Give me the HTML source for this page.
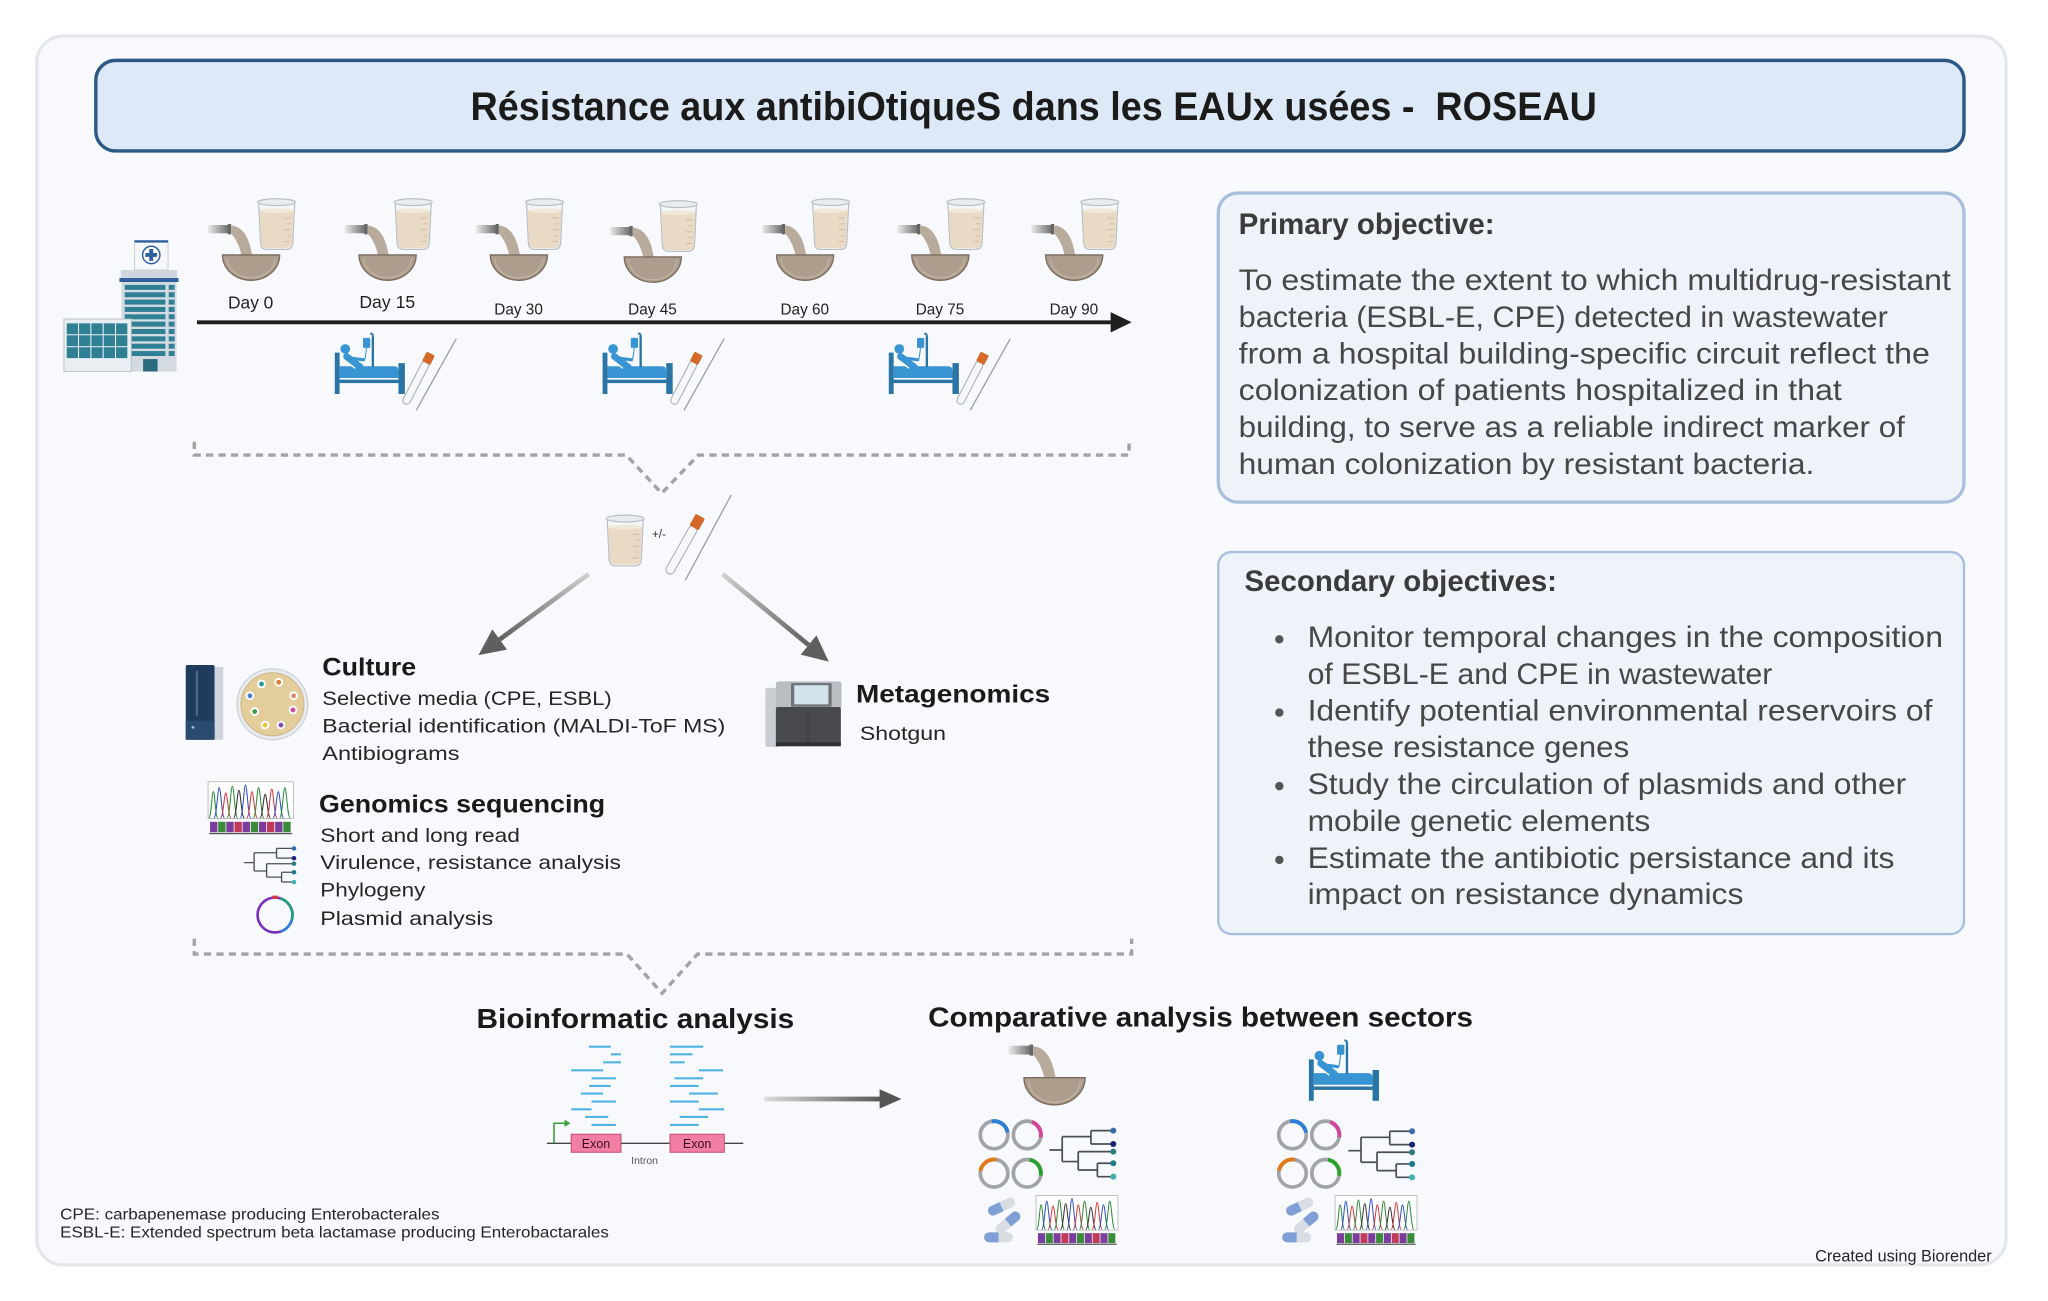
<!DOCTYPE html>
<html><head><meta charset="utf-8">
<style>
html,body{margin:0;padding:0;background:#ffffff;}
svg{display:block;}
text{font-family:"Liberation Sans",Arial,sans-serif;}
</style></head>
<body>
<svg width="2048" height="1301" viewBox="0 0 1560 991" preserveAspectRatio="none" xmlns="http://www.w3.org/2000/svg" xmlns:xlink="http://www.w3.org/1999/xlink">
<defs>
  <linearGradient id="pipeG" x1="0" x2="1" y1="0" y2="0">
    <stop offset="0" stop-color="#ececec"/><stop offset="1" stop-color="#6a6a6a"/>
  </linearGradient>
  <linearGradient id="arrL" gradientUnits="userSpaceOnUse" x1="448" y1="437" x2="380" y2="487">
    <stop offset="0" stop-color="#d0d0d0"/><stop offset="1" stop-color="#5f5f5f"/>
  </linearGradient>
  <linearGradient id="arrR" gradientUnits="userSpaceOnUse" x1="550" y1="437" x2="616" y2="491">
    <stop offset="0" stop-color="#d0d0d0"/><stop offset="1" stop-color="#5f5f5f"/>
  </linearGradient>
  <linearGradient id="arrB" gradientUnits="userSpaceOnUse" x1="582" y1="0" x2="672" y2="0">
    <stop offset="0" stop-color="#dcdcdc"/><stop offset="1" stop-color="#555"/>
  </linearGradient>

  <g id="beaker">
    <path d="M1.5,3 L3,34.5 Q3.5,39 8,39 L22.5,39 Q27,39 27.5,34.5 L29,3 Z" fill="#f3f5f7" stroke="#b8bec4" stroke-width="0.9"/>
    <path d="M2.1,9.5 L3.4,34.3 Q3.9,38 8,38 L22.5,38 Q26.4,38 26.9,34.3 L28.3,9.5 Z" fill="#e9dac6"/>
    <ellipse cx="15.2" cy="9.5" rx="13.1" ry="1.8" fill="#f2e8d9"/>
    <g stroke="#cdbba2" stroke-width="0.7">
      <line x1="21" y1="15" x2="26" y2="15"/><line x1="23" y1="19.5" x2="26" y2="19.5"/>
      <line x1="21" y1="24" x2="26" y2="24"/><line x1="23" y1="28.5" x2="26" y2="28.5"/>
      <line x1="21" y1="33" x2="25.5" y2="33"/>
    </g>
    <ellipse cx="15.2" cy="3" rx="14.5" ry="2.6" fill="#e8ecef" stroke="#b8bec4" stroke-width="0.9"/>
  </g>

  <g id="pour">
    <rect x="-32.5" y="0" width="16" height="6.3" fill="url(#pipeG)"/>
    <rect x="-17.5" y="-0.8" width="2.5" height="7.9" fill="#666"/>
    <path d="M-15,0.4 C-6,1.1 -1,9.6 1,23.1 L-7,23.1 C-9,14.6 -12,9.6 -15,6.6 Z" fill="#b9ab9c"/>
    <path d="M-21.5,22.8 L22,22.8 A21.75 19.3 0 0 1 -21.5,22.8 Z" fill="#ad9d8d" stroke="#7a6b5d" stroke-width="1"/>
    <path d="M-18,25 A18 15 0 0 0 18.5,25" fill="none" stroke="#c4b6a7" stroke-width="0.8"/>
  </g>

  <g id="samp">
    <use href="#pour" xlink:href="#pour" x="0" y="171.4"/>
    <use href="#beaker" xlink:href="#beaker" x="4.5" y="151"/>
  </g>

  <g id="bed">
    <rect x="0" y="15" width="3.7" height="31.5" fill="#2b74a6"/>
    <rect x="48.5" y="23" width="4.9" height="23.5" fill="#2b74a6"/>
    <rect x="1" y="35.6" width="51" height="2.6" fill="#2b74a6"/>
    <path d="M3.7,25.4 L45,25.4 Q48.5,25.4 48.5,29 L48.5,34.3 L3.7,34.3 Z" fill="#3894d2"/>
    <circle cx="8" cy="12.2" r="3.7" fill="#3894d2"/>
    <line x1="9" y1="18" x2="19.5" y2="26" stroke="#3894d2" stroke-width="5.2" stroke-linecap="round"/>
    <line x1="11" y1="19" x2="22" y2="20.5" stroke="#3894d2" stroke-width="2.4" stroke-linecap="round"/>
    <line x1="4.5" y1="18.5" x2="15.5" y2="27" stroke="#ffffff" stroke-width="1"/>
    <line x1="29" y1="26" x2="29" y2="2.5" stroke="#2b74a6" stroke-width="1.8"/>
    <path d="M29,2.5 Q29,0.3 27,0.5" fill="none" stroke="#2b74a6" stroke-width="1.5"/>
    <rect x="21.5" y="3.8" width="5.5" height="7.6" rx="1" fill="#3894d2"/>
    <line x1="24.2" y1="11.4" x2="23" y2="20" stroke="#3894d2" stroke-width="0.8"/>
  </g>

  <g id="tube">
    <line x1="62" y1="59" x2="92.6" y2="4.3" stroke="#9aa0a6" stroke-width="1"/>
    <g transform="translate(61.75,38) rotate(-62.7)">
      <rect x="-18" y="-2.9" width="36" height="5.8" rx="2.9" fill="#f6f7f9" stroke="#a8adb3" stroke-width="0.8"/>
      <rect x="17" y="-3.5" width="8" height="7" rx="1" fill="#d4692a"/>
    </g>
  </g>

  <g id="chrom">
    <rect x="0.5" y="0.5" width="65" height="28" fill="#ffffff" stroke="#b0b0b0" stroke-width="0.6"/>
    <g fill="none" stroke-width="0.8">
      <path d="M1,28 C3,28 3.3,8 4.5,8 C5.7,8 6,28 8,28" stroke="#2e8b3a"/>
      <path d="M5,28 C7,28 7.8,5 9,5 C10.2,5 11,28 13,28" stroke="#3050c8"/>
      <path d="M10,28 C12,28 12.8,9 14,9 C15.2,9 16,28 18,28" stroke="#d23a3a"/>
      <path d="M15,28 C17,28 17.8,4 19,4 C20.2,4 21,28 23,28" stroke="#2e8b3a"/>
      <path d="M20,28 C22,28 22.8,7 24,7 C25.2,7 26,28 28,28" stroke="#333333"/>
      <path d="M25,28 C27,28 27.8,3 29,3 C30.2,3 31,28 33,28" stroke="#3050c8"/>
      <path d="M30,28 C32,28 32.8,8 34,8 C35.2,8 36,28 38,28" stroke="#d23a3a"/>
      <path d="M35,28 C37,28 37.8,5 39,5 C40.2,5 41,28 43,28" stroke="#2e8b3a"/>
      <path d="M40,28 C42,28 42.8,10 44,10 C45.2,10 46,28 48,28" stroke="#333333"/>
      <path d="M45,28 C47,28 47.8,6 49,6 C50.2,6 51,28 53,28" stroke="#d23a3a"/>
      <path d="M50,28 C52,28 52.8,8 54,8 C55.2,8 56,28 58,28" stroke="#3050c8"/>
      <path d="M55,28 C57,28 57.8,5 59,5 C60.2,5 61,28 63,28" stroke="#2e8b3a"/>
    </g>
    <g>
      <rect x="2" y="31" width="5.6" height="8" fill="#7b3d9b"/>
      <rect x="8.2" y="31" width="5.6" height="8" fill="#3a8a3a"/>
      <rect x="14.4" y="31" width="5.6" height="8" fill="#7b3d9b"/>
      <rect x="20.6" y="31" width="5.6" height="8" fill="#c03a5a"/>
      <rect x="26.8" y="31" width="5.6" height="8" fill="#7b3d9b"/>
      <rect x="33" y="31" width="5.6" height="8" fill="#3a8a3a"/>
      <rect x="39.2" y="31" width="5.6" height="8" fill="#7b3d9b"/>
      <rect x="45.4" y="31" width="5.6" height="8" fill="#c03a5a"/>
      <rect x="51.6" y="31" width="5.6" height="8" fill="#7b3d9b"/>
      <rect x="57.8" y="31" width="5.6" height="8" fill="#3a8a3a"/>
    </g>
    <line x1="1.5" y1="40" x2="64.5" y2="40" stroke="#555" stroke-width="1"/>
  </g>

  <g id="tree">
    <g fill="none" stroke="#4a4f55" stroke-width="1.3">
      <path d="M0,16.5 H9.7 M9.7,6.3 V25.3 M9.7,6.3 H31.6 M31.6,1.7 V11.9 M31.6,1.7 H48.6 M31.6,11.9 H48.6 M9.7,25.3 H21.9 M21.9,17.7 V31.7 M21.9,17.7 H48.6 M21.9,31.7 H36.5 M36.5,26.6 V36.8 M36.5,26.6 H48.6 M36.5,36.8 H48.6"/>
    </g>
    <circle cx="48.6" cy="1.7" r="2.3" fill="#3a6ab0"/>
    <circle cx="48.6" cy="11.9" r="2.3" fill="#1a237e"/>
    <circle cx="48.6" cy="17.7" r="2.3" fill="#2e7d7d"/>
    <circle cx="48.6" cy="26.6" r="2.3" fill="#1f7a8c"/>
    <circle cx="48.6" cy="36.8" r="2.3" fill="#40b0b0"/>
  </g>

  <g id="plas4">
    <g fill="none" stroke="#a0a3a8" stroke-width="2.8">
      <circle cx="0" cy="0" r="10.5"/><circle cx="25.2" cy="0" r="10.5"/>
      <circle cx="0" cy="29.2" r="10.5"/><circle cx="25.2" cy="29.2" r="10.5"/>
    </g>
    <g fill="none" stroke-width="3">
      <path d="M-1.82,-10.34 A10.5 10.5 0 0 1 10.34,-1.82" stroke="#2f7fd8"/>
      <path d="M28.79,-9.87 A10.5 10.5 0 0 1 35.54,1.82" stroke="#d0449a"/>
      <path d="M-10.34,27.38 A10.5 10.5 0 0 1 1.82,18.86" stroke="#e07a1a"/>
      <path d="M27.02,18.86 A10.5 10.5 0 0 1 35.54,31.02" stroke="#2ca02c"/>
    </g>
  </g>

  <g id="pill">
    <rect x="-11" y="-3.8" width="22" height="7.6" rx="3.8" fill="#d8dce3"/>
    <path d="M0,-3.8 L-7.2,-3.8 A3.8 3.8 0 0 0 -7.2,3.8 L0,3.8 Z" fill="#7f9fd6"/>
  </g>

  <g id="pills">
    <use href="#pill" xlink:href="#pill" transform="translate(14.5,5.1) rotate(-25)"/>
    <use href="#pill" xlink:href="#pill" transform="translate(19.5,17.3) rotate(140)"/>
    <use href="#pill" xlink:href="#pill" transform="translate(12.2,28.5)"/>
  </g>
</defs>

<!-- outer panel -->
<rect x="28" y="27.5" width="1500" height="936" rx="20" fill="#f7f9fc" stroke="#e3e7ec" stroke-width="2.5"/>

<!-- title -->
<rect x="73" y="46" width="1423" height="69" rx="15" fill="#dde9f6" stroke="#2b5885" stroke-width="2.6"/>
<text x="358.4" y="91.5" font-size="30" font-weight="bold" fill="#1b1b1b" textLength="858" lengthAdjust="spacingAndGlyphs" style="white-space:pre">Résistance aux antibiOtiqueS dans les EAUx usées -  ROSEAU</text>

<!-- primary objective -->
<rect x="928" y="147" width="568" height="235.5" rx="15" fill="#eef3f9" stroke="#a9bedc" stroke-width="2.5"/>
<text x="943.5" y="178.3" font-size="22.5" font-weight="bold" fill="#3b3b3b" textLength="195" lengthAdjust="spacingAndGlyphs">Primary objective:</text>
<g font-size="22.5" fill="#474747">
  <text x="943.5" y="221" textLength="542.5" lengthAdjust="spacingAndGlyphs">To estimate the extent to which multidrug-resistant</text>
  <text x="943.5" y="249" textLength="494.5" lengthAdjust="spacingAndGlyphs">bacteria (ESBL-E, CPE) detected in wastewater</text>
  <text x="943.5" y="276.8" textLength="526.5" lengthAdjust="spacingAndGlyphs">from a hospital building-specific circuit reflect the</text>
  <text x="943.5" y="304.8" textLength="459.5" lengthAdjust="spacingAndGlyphs">colonization of patients hospitalized in that</text>
  <text x="943.5" y="332.8" textLength="507.5" lengthAdjust="spacingAndGlyphs">building, to serve as a reliable indirect marker of</text>
  <text x="943.5" y="361" textLength="438.5" lengthAdjust="spacingAndGlyphs">human colonization by resistant bacteria.</text>
</g>

<!-- secondary objectives -->
<rect x="928" y="420.5" width="568" height="291" rx="10" fill="#eef3f9" stroke="#a9bedc" stroke-width="1.8"/>
<text x="948" y="450" font-size="22.5" font-weight="bold" fill="#3b3b3b" textLength="238" lengthAdjust="spacingAndGlyphs">Secondary objectives:</text>
<g fill="#555"><circle cx="974.5" cy="487" r="3.2"/><circle cx="974.5" cy="542.8" r="3.2"/><circle cx="974.5" cy="598.8" r="3.2"/><circle cx="974.5" cy="655" r="3.2"/></g>
<g font-size="22.5" fill="#474747">
  <text x="996" y="493" textLength="484" lengthAdjust="spacingAndGlyphs">Monitor temporal changes in the composition</text>
  <text x="996" y="521" textLength="354" lengthAdjust="spacingAndGlyphs">of ESBL-E and CPE in wastewater</text>
  <text x="996" y="548.8" textLength="476" lengthAdjust="spacingAndGlyphs">Identify potential environmental reservoirs of</text>
  <text x="996" y="576.7" textLength="245" lengthAdjust="spacingAndGlyphs">these resistance genes</text>
  <text x="996" y="604.8" textLength="456" lengthAdjust="spacingAndGlyphs">Study the circulation of plasmids and other</text>
  <text x="996" y="633" textLength="261" lengthAdjust="spacingAndGlyphs">mobile genetic elements</text>
  <text x="996" y="661" textLength="447" lengthAdjust="spacingAndGlyphs">Estimate the antibiotic persistance and its</text>
  <text x="996" y="688.6" textLength="332" lengthAdjust="spacingAndGlyphs">impact on resistance dynamics</text>
</g>

<!-- hospital -->
<g>
  <rect x="92.5" y="214.6" width="42" height="68.4" fill="#d3dbe1"/>
  <g fill="#2f8094">
    <rect x="95" y="217" width="31" height="3.8"/><rect x="95" y="222.6" width="31" height="3.8"/>
    <rect x="95" y="228.2" width="31" height="3.8"/><rect x="95" y="233.8" width="31" height="3.8"/>
    <rect x="95" y="239.4" width="31" height="3.8"/><rect x="95" y="245" width="31" height="3.8"/>
    <rect x="95" y="250.6" width="31" height="3.8"/><rect x="95" y="256.2" width="31" height="3.8"/>
    <rect x="95" y="261.8" width="31" height="3.8"/><rect x="95" y="267.4" width="31" height="3.8"/>
    <rect x="128.5" y="217" width="4.5" height="3.8"/><rect x="128.5" y="222.6" width="4.5" height="3.8"/>
    <rect x="128.5" y="228.2" width="4.5" height="3.8"/><rect x="128.5" y="233.8" width="4.5" height="3.8"/>
    <rect x="128.5" y="239.4" width="4.5" height="3.8"/><rect x="128.5" y="245" width="4.5" height="3.8"/>
    <rect x="128.5" y="250.6" width="4.5" height="3.8"/><rect x="128.5" y="256.2" width="4.5" height="3.8"/>
    <rect x="128.5" y="261.8" width="4.5" height="3.8"/><rect x="128.5" y="267.4" width="4.5" height="3.8"/>
  </g>
  <rect x="109" y="273.5" width="11" height="9.5" fill="#2a6b7d"/>
  <rect x="92" y="205.7" width="43" height="7" fill="#cfd8de"/>
  <rect x="91" y="211.8" width="45" height="3" fill="#2e5f9c"/>
  <rect x="102.5" y="183.5" width="25.5" height="22.2" fill="#f5f7f9" stroke="#c3cad1" stroke-width="0.7"/>
  <rect x="102.5" y="183" width="25.5" height="1.8" fill="#2e5f9c"/>
  <circle cx="115.2" cy="194.2" r="6.6" fill="#ffffff" stroke="#2e5f9c" stroke-width="1.1"/>
  <path d="M113.7,189.7 h3 v3 h3 v3 h-3 v3 h-3 v-3 h-3 v-3 h3 Z" fill="#2e5f9c"/>
  <rect x="48.7" y="243" width="51.3" height="40" fill="#e9eef2" stroke="#b6c0c9" stroke-width="0.7"/>
  <g fill="#2f8094">
    <rect x="50.8" y="246.3" width="8.6" height="8.3"/><rect x="60.2" y="246.3" width="8.6" height="8.3"/><rect x="69.6" y="246.3" width="8.6" height="8.3"/><rect x="79" y="246.3" width="8.6" height="8.3"/><rect x="88.4" y="246.3" width="8.6" height="8.3"/>
    <rect x="50.8" y="255.4" width="8.6" height="8.3"/><rect x="60.2" y="255.4" width="8.6" height="8.3"/><rect x="69.6" y="255.4" width="8.6" height="8.3"/><rect x="79" y="255.4" width="8.6" height="8.3"/><rect x="88.4" y="255.4" width="8.6" height="8.3"/>
    <rect x="50.8" y="264.5" width="8.6" height="8.3"/><rect x="60.2" y="264.5" width="8.6" height="8.3"/><rect x="69.6" y="264.5" width="8.6" height="8.3"/><rect x="79" y="264.5" width="8.6" height="8.3"/><rect x="88.4" y="264.5" width="8.6" height="8.3"/>
  </g>
</g>

<!-- timeline samples -->
<use href="#samp" xlink:href="#samp" x="191" y="0"/>
<use href="#samp" xlink:href="#samp" x="295" y="0"/>
<use href="#samp" xlink:href="#samp" x="395" y="0"/>
<use href="#samp" xlink:href="#samp" x="497" y="1.5"/>
<use href="#samp" xlink:href="#samp" x="613" y="0"/>
<use href="#samp" xlink:href="#samp" x="716" y="0"/>
<use href="#samp" xlink:href="#samp" x="818" y="0"/>

<g fill="#222">
  <text x="173.7" y="235" font-size="13.5" textLength="34.5" lengthAdjust="spacingAndGlyphs">Day 0</text>
  <text x="273.7" y="234.6" font-size="13.5" textLength="42.6" lengthAdjust="spacingAndGlyphs">Day 15</text>
  <text x="376.5" y="239.5" font-size="12" textLength="37" lengthAdjust="spacingAndGlyphs">Day 30</text>
  <text x="478.5" y="239.5" font-size="12" textLength="37" lengthAdjust="spacingAndGlyphs">Day 45</text>
  <text x="594.5" y="239.5" font-size="12" textLength="37" lengthAdjust="spacingAndGlyphs">Day 60</text>
  <text x="697.5" y="239.5" font-size="12" textLength="37" lengthAdjust="spacingAndGlyphs">Day 75</text>
  <text x="799.5" y="239.5" font-size="12" textLength="37" lengthAdjust="spacingAndGlyphs">Day 90</text>
</g>

<line x1="150" y1="245.5" x2="848" y2="245.5" stroke="#1f1f1f" stroke-width="3"/>
<polygon points="846,237.8 862,245.5 846,253.3" fill="#1f1f1f"/>

<!-- beds + tubes -->
<g transform="translate(255,253.6)"><use href="#bed" xlink:href="#bed"/><use href="#tube" xlink:href="#tube"/></g>
<g transform="translate(459,253.6)"><use href="#bed" xlink:href="#bed"/><use href="#tube" xlink:href="#tube"/></g>
<g transform="translate(677,253.6)"><use href="#bed" xlink:href="#bed"/><use href="#tube" xlink:href="#tube"/></g>

<!-- dashed connectors -->
<path d="M148,336.5 L148,346.6 L477,346.6 L504,375.7 L532,346.6 L860,346.6 L860,336.5" fill="none" stroke="#a3a3a3" stroke-width="2.6" stroke-dasharray="5.5 4"/>
<path d="M148,715 L148,726.7 L477.6,726.7 L504.3,756.6 L531.3,726.7 L862,726.7 L862,715" fill="none" stroke="#a3a3a3" stroke-width="2.6" stroke-dasharray="5.5 4"/>

<!-- middle sample icons -->
<use href="#beaker" xlink:href="#beaker" x="461" y="392"/>
<text x="496.5" y="410" font-size="9" fill="#333">+/-</text>
<line x1="557" y1="377" x2="522" y2="442" stroke="#9aa0a6" stroke-width="1"/>
<g transform="translate(519,419) rotate(-60.5)">
  <rect x="-20.5" y="-3.3" width="41" height="6.6" rx="3.3" fill="#f6f7f9" stroke="#a8adb3" stroke-width="0.8"/>
  <rect x="19.5" y="-4" width="10" height="8" rx="1" fill="#d4692a"/>
</g>

<!-- arrows -->
<line x1="448.4" y1="437.3" x2="380.6" y2="487.1" stroke="url(#arrL)" stroke-width="3.6"/>
<polygon points="364.5,499 386.2,494.8 375,479.4" fill="#5f5f5f"/>
<line x1="550.4" y1="437.3" x2="615.9" y2="491.3" stroke="url(#arrR)" stroke-width="3.6"/>
<polygon points="631.3,504 609.9,498.6 621.9,484" fill="#5f5f5f"/>

<!-- culture icons -->
<rect x="141.5" y="506.5" width="22" height="57" rx="1.5" fill="#1f3b5e"/>
<rect x="163.5" y="508" width="6.5" height="55.5" fill="#cfd5dc"/>
<line x1="150" y1="511" x2="150" y2="545" stroke="#6a84a4" stroke-width="1"/>
<rect x="141.5" y="549" width="22" height="14.5" fill="#2a4a70"/>
<rect x="146" y="553" width="2" height="2" fill="#9fb3c8"/>
<circle cx="207.5" cy="536.5" r="27" fill="#e9ecef" stroke="#cfd3d8" stroke-width="1"/>
<circle cx="207.5" cy="536.5" r="24" fill="#e3cd9a" stroke="#cdb78a" stroke-width="0.8"/>
<g stroke="#ffffff" stroke-width="1.5">
  <circle cx="199.2" cy="521" r="2.6" fill="#2a9d8f"/>
  <circle cx="212.3" cy="519.7" r="2.6" fill="#e07a3a"/>
  <circle cx="190.4" cy="530" r="2.6" fill="#4a7fd0"/>
  <circle cx="223.7" cy="530" r="2.6" fill="#e08a70"/>
  <circle cx="194" cy="542" r="2.6" fill="#3aa04a"/>
  <circle cx="223.2" cy="540.8" r="2.6" fill="#d04a9a"/>
  <circle cx="201.9" cy="552.3" r="2.6" fill="#e8c040"/>
  <circle cx="214" cy="552.3" r="2.6" fill="#8a4ab0"/>
</g>

<!-- culture text -->
<text x="245.5" y="514.7" font-size="19" font-weight="bold" fill="#1a1a1a" textLength="71.5" lengthAdjust="spacingAndGlyphs">Culture</text>
<g font-size="15" fill="#262626">
  <text x="245.5" y="537" textLength="220.5" lengthAdjust="spacingAndGlyphs">Selective media (CPE, ESBL)</text>
  <text x="245.5" y="558" textLength="307" lengthAdjust="spacingAndGlyphs">Bacterial identification (MALDI-ToF MS)</text>
  <text x="245.5" y="579" textLength="104.5" lengthAdjust="spacingAndGlyphs">Antibiograms</text>
</g>

<!-- sequencer -->
<rect x="583" y="524" width="10.5" height="45" rx="1.5" fill="#c9cdd1"/>
<rect x="591" y="519" width="50" height="21" rx="2" fill="#b9bdc1"/>
<rect x="602.5" y="520.3" width="31" height="18" rx="1" fill="#6f767b"/>
<rect x="605" y="522" width="26" height="14.5" fill="#d3e3ec"/>
<rect x="591" y="538.5" width="49.5" height="29.5" rx="1.5" fill="#47494c"/>
<line x1="615.5" y1="540" x2="615.5" y2="566" stroke="#3a3c3e" stroke-width="0.8"/>
<rect x="591" y="565.5" width="49.5" height="3" fill="#2f3133"/>

<text x="652" y="535" font-size="19" font-weight="bold" fill="#1a1a1a" textLength="148" lengthAdjust="spacingAndGlyphs">Metagenomics</text>
<text x="655" y="563.7" font-size="15" fill="#262626" textLength="65.6" lengthAdjust="spacingAndGlyphs">Shotgun</text>

<!-- genomics -->
<use href="#chrom" xlink:href="#chrom" transform="translate(158,595) scale(1,1.0)"/>
<use href="#tree" xlink:href="#tree" transform="translate(186,645) scale(0.78,0.73)"/>
<circle cx="209.5" cy="697" r="13.3" fill="none" stroke="#7b2fbf" stroke-width="2"/>
<path d="M213.5,684.3 A13.3 13.3 0 0 1 222.2,701" fill="none" stroke="#1aa37a" stroke-width="2"/>
<path d="M222.2,701 A13.3 13.3 0 0 1 214,709.5" fill="none" stroke="#2f7fd8" stroke-width="2"/>
<rect x="207.5" y="682.2" width="4" height="2.5" fill="#d83a3a"/>

<text x="243" y="619" font-size="19" font-weight="bold" fill="#1a1a1a" textLength="218" lengthAdjust="spacingAndGlyphs">Genomics sequencing</text>
<g font-size="15" fill="#262626">
  <text x="244" y="641.4" textLength="152" lengthAdjust="spacingAndGlyphs">Short and long read</text>
  <text x="244" y="662" textLength="229" lengthAdjust="spacingAndGlyphs">Virulence, resistance analysis</text>
  <text x="244" y="683" textLength="80" lengthAdjust="spacingAndGlyphs">Phylogeny</text>
  <text x="244" y="704.6" textLength="131.6" lengthAdjust="spacingAndGlyphs">Plasmid analysis</text>
</g>

<!-- bottom headings -->
<text x="363" y="783" font-size="21" font-weight="bold" fill="#1a1a1a" textLength="242" lengthAdjust="spacingAndGlyphs">Bioinformatic analysis</text>
<text x="707" y="782" font-size="21" font-weight="bold" fill="#1a1a1a" textLength="415" lengthAdjust="spacingAndGlyphs">Comparative analysis between sectors</text>

<!-- reads -->
<g stroke="#4fb3e3" stroke-width="1.6">
  <line x1="448.7" y1="797.3" x2="465.2" y2="797.3"/>
  <line x1="465.2" y1="803.1" x2="473" y2="803.1"/>
  <line x1="459.4" y1="809.2" x2="473" y2="809.2"/>
  <line x1="435.1" y1="815.3" x2="459.4" y2="815.3"/>
  <line x1="450.6" y1="821.4" x2="469.1" y2="821.4"/>
  <line x1="448.7" y1="827.2" x2="465.2" y2="827.2"/>
  <line x1="442.4" y1="833" x2="459.4" y2="833"/>
  <line x1="450.6" y1="839.1" x2="469.1" y2="839.1"/>
  <line x1="435.1" y1="845" x2="450.6" y2="845"/>
  <line x1="445.8" y1="850.8" x2="463.3" y2="850.8"/>
  <line x1="450.6" y1="856.9" x2="469.1" y2="856.9"/>
  <line x1="510.4" y1="797.3" x2="535.6" y2="797.3"/>
  <line x1="510.4" y1="803.1" x2="527.4" y2="803.1"/>
  <line x1="510.4" y1="809.2" x2="521.5" y2="809.2"/>
  <line x1="532.2" y1="815.3" x2="550.7" y2="815.3"/>
  <line x1="513.8" y1="821.4" x2="535.6" y2="821.4"/>
  <line x1="510.4" y1="827.2" x2="532.2" y2="827.2"/>
  <line x1="524.9" y1="833" x2="546.8" y2="833"/>
  <line x1="510.4" y1="839.1" x2="532.2" y2="839.1"/>
  <line x1="532.2" y1="845" x2="551.7" y2="845"/>
  <line x1="517.7" y1="850.8" x2="539.5" y2="850.8"/>
  <line x1="510.4" y1="856.9" x2="532.2" y2="856.9"/>
</g>
<line x1="416.6" y1="870.9" x2="566.2" y2="870.9" stroke="#444" stroke-width="1.1"/>
<path d="M422,870.9 V855.6 H431" fill="none" stroke="#3aa03a" stroke-width="1.2"/>
<polygon points="430,852.8 434.5,855.6 430,858.4" fill="#3aa03a"/>
<rect x="435.1" y="864" width="37.9" height="13.7" fill="#f27ea3" stroke="#c94d74" stroke-width="0.8"/>
<rect x="510.4" y="864" width="41.3" height="13.7" fill="#f27ea3" stroke="#c94d74" stroke-width="0.8"/>
<text x="454" y="874.5" font-size="9.5" fill="#3a1020" text-anchor="middle">Exon</text>
<text x="531" y="874.5" font-size="9.5" fill="#3a1020" text-anchor="middle">Exon</text>
<text x="491" y="886.5" font-size="8" fill="#555" text-anchor="middle">Intron</text>

<!-- bottom arrow -->
<line x1="582.3" y1="837.1" x2="672" y2="837.1" stroke="url(#arrB)" stroke-width="3.6"/>
<polygon points="670,829.7 686.7,837.1 670,844.5" fill="#555"/>

<!-- comparative group 1 -->
<use href="#pour" xlink:href="#pour" transform="translate(803,796.5) scale(1.07)"/>
<use href="#plas4" xlink:href="#plas4" x="757.2" y="864.5"/>
<use href="#tree" xlink:href="#tree" x="799.4" y="859.5"/>
<use href="#pills" xlink:href="#pills" x="748.4" y="914"/>
<use href="#chrom" xlink:href="#chrom" transform="translate(788.7,910.2) scale(0.96,0.94)"/>

<!-- comparative group 2 -->
<use href="#bed" xlink:href="#bed" x="997" y="792"/>
<use href="#plas4" xlink:href="#plas4" x="984.5" y="864.5"/>
<use href="#tree" xlink:href="#tree" x="1027" y="860"/>
<use href="#pills" xlink:href="#pills" x="975.5" y="914"/>
<use href="#chrom" xlink:href="#chrom" transform="translate(1016.5,910.2) scale(0.96,0.94)"/>

<!-- footnotes -->
<g font-size="12" fill="#262626">
  <text x="45.8" y="929" textLength="289" lengthAdjust="spacingAndGlyphs">CPE: carbapenemase producing Enterobacterales</text>
  <text x="45.8" y="942.6" textLength="418" lengthAdjust="spacingAndGlyphs">ESBL-E: Extended spectrum beta lactamase producing Enterobactarales</text>
</g>
<text x="1382.6" y="961" font-size="12.5" fill="#262626" textLength="134.5" lengthAdjust="spacingAndGlyphs">Created using Biorender</text>
</svg>
</body></html>
